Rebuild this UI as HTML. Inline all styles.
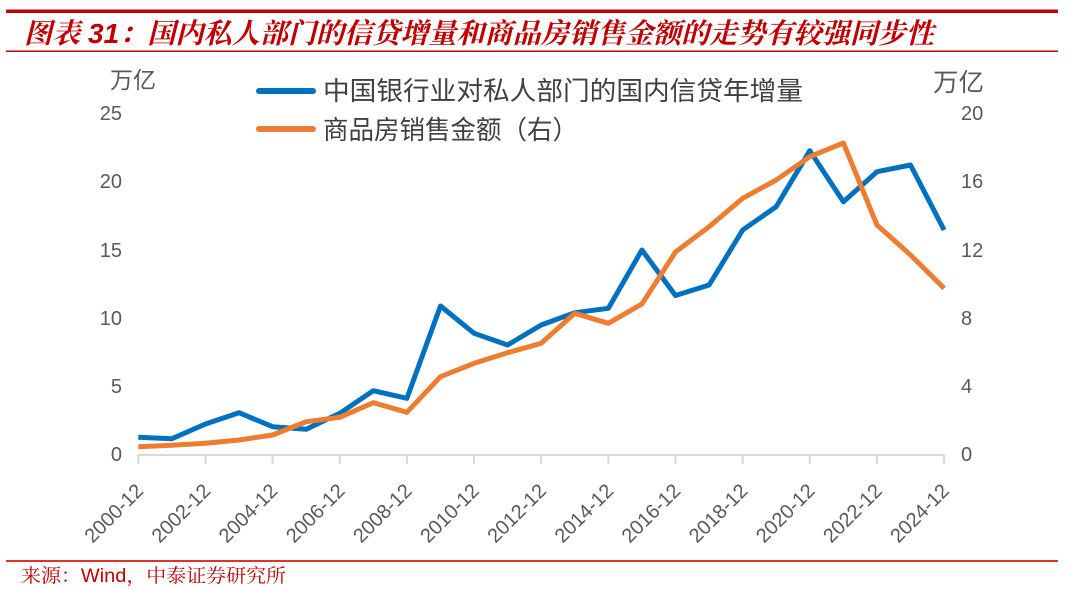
<!DOCTYPE html>
<html>
<head>
<meta charset="utf-8">
<style>
  html,body{margin:0;padding:0;background:#fff;}
  svg{display:block;}
</style>
</head>
<body>
<svg width="1080" height="590" viewBox="0 0 1080 590" xmlns="http://www.w3.org/2000/svg">
  <rect x="0" y="0" width="1080" height="590" fill="#ffffff"/>
  <!-- header lines -->
  <rect x="6" y="9.5" width="1052" height="3.5" fill="#c00000"/>
  <rect x="6" y="50.5" width="1052" height="1.5" fill="#c00000"/>
  <text x="24" y="43" font-family="'Liberation Sans','Noto Serif CJK SC',serif" font-size="28" font-weight="bold" font-style="italic" fill="#c00000" textLength="910" lengthAdjust="spacingAndGlyphs">图表 31：国内私人部门的信贷增量和商品房销售金额的走势有较强同步性</text>

  <!-- unit labels -->
  <text x="110" y="88" font-family="'Liberation Sans','Noto Sans CJK SC',sans-serif" font-size="23" fill="#595959" textLength="46" lengthAdjust="spacingAndGlyphs">万亿</text>
  <text x="933" y="91" font-family="'Liberation Sans','Noto Sans CJK SC',sans-serif" font-size="25" fill="#595959" textLength="51" lengthAdjust="spacingAndGlyphs">万亿</text>

  <!-- legend -->
  <line x1="259" y1="91" x2="313" y2="91" stroke="#0070c0" stroke-width="6" stroke-linecap="round"/>
  <line x1="259" y1="129" x2="313" y2="129" stroke="#ed7d31" stroke-width="6" stroke-linecap="round"/>
  <text x="323" y="100" font-family="'Liberation Sans','Noto Sans CJK SC',sans-serif" font-size="26" fill="#404040" textLength="480" lengthAdjust="spacingAndGlyphs">中国银行业对私人部门的国内信贷年增量</text>
  <text x="323" y="139" font-family="'Liberation Sans','Noto Sans CJK SC',sans-serif" font-size="26" fill="#404040" textLength="255" lengthAdjust="spacingAndGlyphs">商品房销售金额（右）</text>

  <!-- left axis labels -->
  <g font-family="'Liberation Sans',sans-serif" font-size="20" fill="#595959" text-anchor="end">
    <text x="122" y="461">0</text>
    <text x="122" y="393">5</text>
    <text x="122" y="325">10</text>
    <text x="122" y="257">15</text>
    <text x="122" y="188">20</text>
    <text x="122" y="120">25</text>
  </g>
  <!-- right axis labels -->
  <g font-family="'Liberation Sans',sans-serif" font-size="20" fill="#595959" text-anchor="start">
    <text x="961" y="461">0</text>
    <text x="961" y="393">4</text>
    <text x="961" y="325">8</text>
    <text x="961" y="257">12</text>
    <text x="961" y="188">16</text>
    <text x="961" y="120">20</text>
  </g>

  <!-- x axis -->
  <line x1="138" y1="455" x2="944.5" y2="455" stroke="#d9d9d9" stroke-width="2"/>
  <g stroke="#d9d9d9" stroke-width="2">
    <line x1="138.3" y1="455" x2="138.3" y2="464"/>
    <line x1="205.5" y1="455" x2="205.5" y2="464"/>
    <line x1="272.6" y1="455" x2="272.6" y2="464"/>
    <line x1="339.8" y1="455" x2="339.8" y2="464"/>
    <line x1="406.9" y1="455" x2="406.9" y2="464"/>
    <line x1="474.1" y1="455" x2="474.1" y2="464"/>
    <line x1="541.2" y1="455" x2="541.2" y2="464"/>
    <line x1="608.4" y1="455" x2="608.4" y2="464"/>
    <line x1="675.5" y1="455" x2="675.5" y2="464"/>
    <line x1="742.7" y1="455" x2="742.7" y2="464"/>
    <line x1="809.8" y1="455" x2="809.8" y2="464"/>
    <line x1="877.0" y1="455" x2="877.0" y2="464"/>
    <line x1="944.1" y1="455" x2="944.1" y2="464"/>
  </g>
  <g font-family="'Liberation Sans',sans-serif" font-size="20" fill="#595959" text-anchor="end">
    <text transform="translate(144.5,492) rotate(-45)">2000-12</text>
    <text transform="translate(211.7,492) rotate(-45)">2002-12</text>
    <text transform="translate(278.8,492) rotate(-45)">2004-12</text>
    <text transform="translate(346.0,492) rotate(-45)">2006-12</text>
    <text transform="translate(413.1,492) rotate(-45)">2008-12</text>
    <text transform="translate(480.3,492) rotate(-45)">2010-12</text>
    <text transform="translate(547.4,492) rotate(-45)">2012-12</text>
    <text transform="translate(614.6,492) rotate(-45)">2014-12</text>
    <text transform="translate(681.7,492) rotate(-45)">2016-12</text>
    <text transform="translate(748.9,492) rotate(-45)">2018-12</text>
    <text transform="translate(816.0,492) rotate(-45)">2020-12</text>
    <text transform="translate(883.2,492) rotate(-45)">2022-12</text>
    <text transform="translate(950.3,492) rotate(-45)">2024-12</text>
  </g>

  <!-- blue series (left axis) -->
  <polyline fill="none" stroke="#0070c0" stroke-width="5" stroke-linejoin="round" stroke-linecap="butt"
    points="138.3,437.3 171.9,438.7 205.5,424 239.0,412.7 272.6,426.7 306.2,429.3 339.8,413.3 373.3,390.7 406.9,398.3 440.5,306 474.1,333.3 507.6,345 541.2,325 574.8,312.7 608.4,308.3 641.9,250 675.5,295.5 709.1,285 742.7,230 776.2,206.7 809.8,150.7 843.4,201.7 877.0,171.7 910.5,165 944.1,230"/>
  <!-- orange series (right axis), drawn on top -->
  <polyline fill="none" stroke="#ed7d31" stroke-width="5" stroke-linejoin="round" stroke-linecap="butt"
    points="138.3,446.7 171.9,445.3 205.5,443.3 239.0,440 272.6,435 306.2,421.7 339.8,417.3 373.3,402.7 406.9,412.3 440.5,376.7 474.1,363.3 507.6,352.7 541.2,343.3 574.8,313.3 608.4,323.3 641.9,304 675.5,252 709.1,226.7 742.7,198.3 776.2,180 809.8,156.7 843.4,143 877.0,225 910.5,255 944.1,288.3"/>

  <!-- footer -->
  <rect x="6" y="560" width="1052" height="2" fill="#e03030"/>
  <text x="21" y="582" font-family="'Liberation Sans','Noto Serif CJK SC',serif" font-size="19" fill="#c00000" textLength="265" lengthAdjust="spacingAndGlyphs">来源：Wind，中泰证券研究所</text>
</svg>
</body>
</html>
